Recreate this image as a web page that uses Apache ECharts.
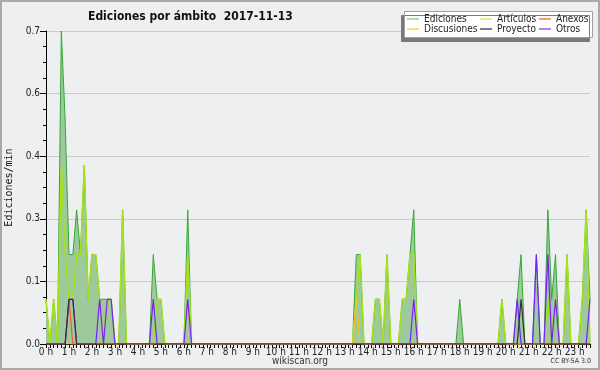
<!DOCTYPE html>
<html><head><meta charset="utf-8">
<script src="https://cdn.jsdelivr.net/npm/echarts@6/dist/echarts.min.js"></script>
<style>html,body{margin:0;padding:0;background:#eeeff1}#c{width:600px;height:370px}</style>
</head><body><div id="c"></div>
<script>
// 10-minute slots, 0:00 .. 23:40 (143 points)
const hourLabels = ['0 h','1 h','2 h','3 h','4 h','5 h','6 h','7 h','8 h','9 h','10 h','11 h','12 h','13 h','14 h','15 h','16 h','17 h','18 h','19 h','20 h','21 h','22 h','23 h'];

const ediciones = [
0.1,0,0.1,0,0.7,0.5,0.2,0.2,0.3,0.2,0.4,0.1,
0.2,0.2,0.1,0.1,0.1,0.1,0,0,0.3,0,0,0,
0,0,0,0,0.2,0.1,0.1,0,0,0,0,0,
0,0.3,0,0,0,0,0,0,0,0,0,0,
0,0,0,0,0,0,0,0,0,0,0,0,
0,0,0,0,0,0,0,0,0,0,0,0,
0,0,0,0,0,0,0,0,0,0.2,0.2,0,
0,0,0.1,0.1,0,0.2,0,0,0,0.1,0.1,0.2,
0.3,0,0,0,0,0,0,0,0,0,0,0,
0.1,0,0,0,0,0,0,0,0,0,0,0.1,
0,0,0,0.1,0.2,0,0,0,0.2,0,0,0.3,
0.1,0.2,0,0,0.2,0,0,0,0.1,0.3,0.1];
const articulos = [
0.1,0,0.1,0,0.4,0.2,0.1,0.1,0.2,0.2,0.4,0.1,
0.2,0.2,0.1,0,0.1,0.1,0,0,0.3,0,0,0,
0,0,0,0,0,0.1,0.1,0,0,0,0,0,
0,0.2,0,0,0,0,0,0,0,0,0,0,
0,0,0,0,0,0,0,0,0,0,0,0,
0,0,0,0,0,0,0,0,0,0,0,0,
0,0,0,0,0,0,0,0,0,0.1,0.2,0,
0,0,0.1,0.1,0,0.2,0,0,0,0.1,0.1,0.2,
0.2,0,0,0,0,0,0,0,0,0,0,0,
0,0,0,0,0,0,0,0,0,0,0,0.1,
0,0,0,0,0,0,0,0,0,0,0,0.1,
0,0.1,0,0,0.2,0,0,0,0.1,0.3,0];
const anexos = [
0,0,0,0,0,0,0.1,0,0,0,0,0,
0,0,0,0,0,0,0,0,0,0,0,0,
0,0,0,0,0,0,0,0,0,0,0,0,
0,0,0,0,0,0,0,0,0,0,0,0,
0,0,0,0,0,0,0,0,0,0,0,0,
0,0,0,0,0,0,0,0,0,0,0,0,
0,0,0,0,0,0,0,0,0,0,0,0,
0,0,0,0,0,0,0,0,0,0,0,0,
0,0,0,0,0,0,0,0,0,0,0,0,
0,0,0,0,0,0,0,0,0,0,0,0,
0,0,0,0,0,0,0,0,0,0,0,0,
0,0,0,0,0,0,0,0,0,0,0];
const discusiones = [
0,0,0,0,0,0,0,0,0,0,0,0,
0,0,0,0,0,0,0,0,0,0,0,0,
0,0,0,0,0,0,0,0,0,0,0,0,
0,0,0,0,0,0,0,0,0,0,0,0,
0,0,0,0,0,0,0,0,0,0,0,0,
0,0,0,0,0,0,0,0,0,0,0,0,
0,0,0,0,0,0,0,0,0,0.1,0,0,
0,0,0,0,0,0,0,0,0,0,0,0,
0,0,0,0,0,0,0,0,0,0,0,0,
0,0,0,0,0,0,0,0,0,0,0,0,
0,0,0,0,0,0,0,0,0,0,0,0,
0,0,0,0,0,0,0,0,0,0,0];
const proyecto = [
0,0,0,0,0,0,0.1,0.1,0,0,0,0,
0,0,0,0,0,0,0,0,0,0,0,0,
0,0,0,0,0,0,0,0,0,0,0,0,
0,0,0,0,0,0,0,0,0,0,0,0,
0,0,0,0,0,0,0,0,0,0,0,0,
0,0,0,0,0,0,0,0,0,0,0,0,
0,0,0,0,0,0,0,0,0,0,0,0,
0,0,0,0,0,0,0,0,0,0,0,0,
0,0,0,0,0,0,0,0,0,0,0,0,
0,0,0,0,0,0,0,0,0,0,0,0,
0,0,0,0,0.1,0,0,0,0,0,0,0,
0,0,0,0,0,0,0,0,0,0,0];
const otros = [
0,0,0,0,0,0,0.1,0.1,0,0,0,0,
0,0,0.1,0,0.1,0.1,0,0,0,0,0,0,
0,0,0,0,0.1,0,0,0,0,0,0,0,
0,0.1,0,0,0,0,0,0,0,0,0,0,
0,0,0,0,0,0,0,0,0,0,0,0,
0,0,0,0,0,0,0,0,0,0,0,0,
0,0,0,0,0,0,0,0,0,0,0,0,
0,0,0,0,0,0,0,0,0,0,0,0,
0.1,0,0,0,0,0,0,0,0,0,0,0,
0,0,0,0,0,0,0,0,0,0,0,0,
0,0,0,0.1,0,0,0,0,0.2,0,0,0.2,
0,0.1,0,0,0,0,0,0,0,0,0.1];

const slots = ediciones.map((_, i) => i);
const FONT = "'DejaVu Sans Condensed','Liberation Sans Narrow','Liberation Sans',sans-serif";

const chart = echarts.init(document.getElementById('c'), null, {renderer:'canvas'});
function line(name, data, color, width, z, extra) {
  return Object.assign({
    name, type:'line', data, symbol:'none', showSymbol:false, z,
    lineStyle:{color, width}, itemStyle:{color}, emphasis:{disabled:true}
  }, extra || {});
}
const legendBase = {
  orient:'vertical', icon:'rect', itemWidth:12, itemHeight:1.5, itemGap:0, z:10,
  textStyle:{fontFamily:FONT, fontSize:10, color:'#222', lineHeight:10, padding:[0,0,0,0]},
  selectedMode:false, padding:0
};
chart.setOption({
  animation:false,
  backgroundColor:'#eeeff1',
  title:{text:'Ediciones por ámbito  2017-11-13', left:83, top:6,
    textStyle:{fontFamily:"'DejaVu Sans Condensed','Liberation Sans',sans-serif", fontWeight:'bold', fontSize:12, color:'#111'}},
  grid:{left:46, right:10, top:31, bottom:26, containLabel:false, outerBoundsMode:'none'},
  legend:[
    Object.assign({left:407, top:14, data:[{name:'Ediciones',itemStyle:{color:'#8fd88f'}},{name:'Discusiones',itemStyle:{color:'#ffd24d'}}]}, legendBase),
    Object.assign({left:480, top:14, data:[{name:'Artículos',itemStyle:{color:'#d2f25a'}},{name:'Proyecto',itemStyle:{color:'#555'}}]}, legendBase),
    Object.assign({left:539, top:14, data:[{name:'Anexos',itemStyle:{color:'#ff7a45'}},{name:'Otros',itemStyle:{color:'#a155f0'}}]}, legendBase)
  ],
  xAxis:{type:'category', data:slots, boundaryGap:false,
    axisLine:{lineStyle:{color:'#000', width:1}},
    axisTick:{interval:0, length:4, lineStyle:{color:'#000'}},
    axisLabel:{interval:5, margin:3, fontFamily:FONT, fontSize:10, color:'#222',
      formatter:(v, idx) => (idx % 6 === 0 ? hourLabels[idx/6] : '')},
    splitLine:{show:false}},
  yAxis:{type:'value', min:0, max:0.7, interval:0.14,
    name:'Ediciones/min', nameLocation:'middle', nameRotate:90, nameGap:31,
    nameTextStyle:{fontFamily:"'DejaVu Sans Mono',monospace", fontSize:10, color:'#111'},
    axisLine:{show:true, lineStyle:{color:'#000'}},
    axisTick:{show:true, length:6, lineStyle:{color:'#000'}},
    minorTick:{show:true, splitNumber:4, length:3, lineStyle:{color:'#000'}},
    axisLabel:{margin:6, fontFamily:FONT, fontSize:10, color:'#222', formatter:v => v.toFixed(1)},
    splitLine:{lineStyle:{color:'#cacaca', width:1}}},
  graphic:[
    {type:'rect', z:-1, silent:true, shape:{x:1, y:1, width:598, height:368},
      style:{fill:'none', stroke:'#a9a9a9', lineWidth:2}},
    {type:'rect', z:1, silent:true, shape:{x:404.5, y:11.5, width:188, height:26},
      style:{fill:'#ffffff', stroke:'#a0a0a0', lineWidth:1, shadowColor:'#7a7a7a', shadowOffsetX:-3, shadowOffsetY:4, shadowBlur:0}},
    {type:'text', silent:true, left:'center', top:356,
      style:{text:'wikiscan.org', fontFamily:FONT, fontSize:10, fill:'#333'}},
    {type:'text', silent:true, right:9, top:358,
      style:{text:'CC BY-SA 3.0', fontFamily:FONT, fontSize:7, fill:'#333'}}
  ],
  series:[
    line('Ediciones', ediciones, '#36a836', 1, 2, {areaStyle:{color:'#9dc99d', opacity:1}}),
    line('Artículos', articulos, '#a6e11a', 1.5, 3),
    line('Discusiones', discusiones, '#f0c419', 1.2, 4),
    line('Anexos', anexos, '#ff5a1f', 1.2, 5),
    line('Otros', otros, '#7a1fff', 1.2, 6),
    line('Proyecto', proyecto, '#333333', 1.2, 7)
  ]
});
</script></body></html>
